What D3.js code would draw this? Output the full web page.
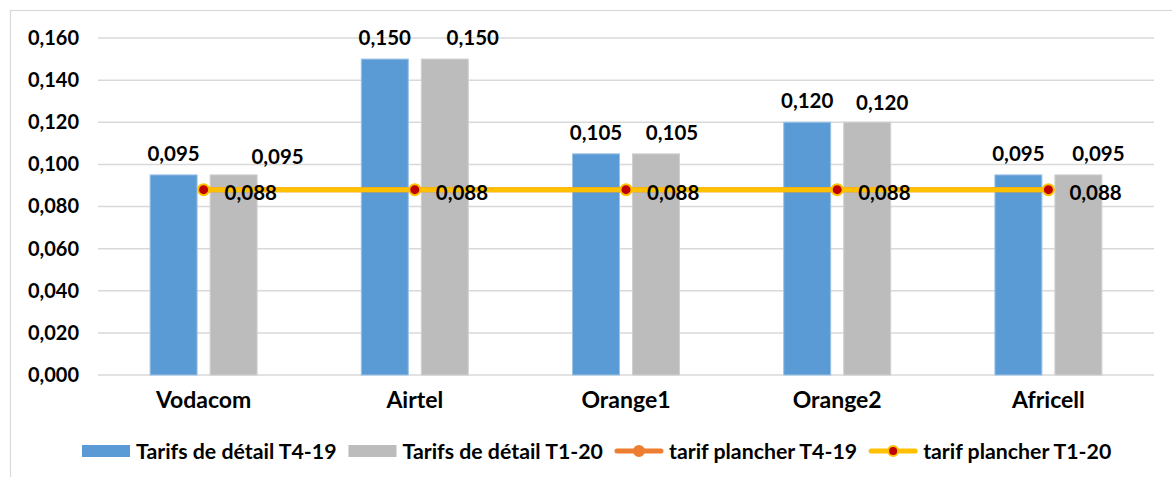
<!DOCTYPE html>
<html>
<head>
<meta charset="utf-8">
<script src="https://cdn.jsdelivr.net/npm/d3@7"></script>
<style>
  html, body { margin: 0; padding: 0; background: #fff; }
  svg { display: block; }
  text { font-family: Lato, "DejaVu Sans", sans-serif; font-weight: 700; fill: #000; }
</style>
</head>
<body>
<svg id="chart" width="1172" height="477"></svg>
<script>
// ---- data ----
const categories = ["Vodacom", "Airtel", "Orange1", "Orange2", "Africell"];
const detailT4_19 = [0.095, 0.150, 0.105, 0.120, 0.095];
const detailT1_20 = [0.095, 0.150, 0.105, 0.120, 0.095];
const plancherT4_19 = [0.088, 0.088, 0.088, 0.088, 0.088];
const plancherT1_20 = [0.088, 0.088, 0.088, 0.088, 0.088];
const yTicks = [0, 0.02, 0.04, 0.06, 0.08, 0.10, 0.12, 0.14, 0.16];
const seriesNames = ["Tarifs de détail T4-19", "Tarifs de détail T1-20", "tarif plancher T4-19", "tarif plancher T1-20"];

// label nudges (layout only, px)
const grayLabelDx = [44, 28, 16, 15, 20];
const grayLabelDy = [3, 0, 0, 2, 0];

const colors = { blue: "#5B9BD5", gray: "#BCBCBC", orange: "#ED7D31", yellow: "#FFC000", red: "#C00000", grid: "#D9D9D9" };

const svg = d3.select("#chart");
const fmt = v => d3.format(".3f")(v).replace(".", ",");

// chart border
svg.append("rect").attr("x", 10.5).attr("y", 10.5).attr("width", 1200).attr("height", 500)
  .attr("fill", "none").attr("stroke", "#D9D9D9").attr("stroke-width", 1.2);

const plot = { left: 98, right: 1154, top: 38, bottom: 375 };
const x = d3.scaleBand().domain(categories).range([plot.left, plot.right]).padding(0);
const xs = d3.scaleBand().domain(["a", "b"]).range([-53.5, 53.5]).paddingInner(0.2167).paddingOuter(0);
const y = d3.scaleLinear().domain([0, 0.16]).range([plot.bottom, plot.top]);
const cx = c => x(c) + x.bandwidth() / 2;

// gridlines
svg.append("g").selectAll("line").data(yTicks).join("line")
  .attr("x1", plot.left).attr("x2", plot.right)
  .attr("y1", d => y(d)).attr("y2", d => y(d))
  .attr("stroke", colors.grid).attr("stroke-width", 1.5);

// y axis labels
const yAxis = d3.axisLeft(y).tickValues(yTicks).tickFormat(fmt).tickSize(0).tickPadding(0);
const yg = svg.append("g").attr("transform", "translate(79,0)").call(yAxis);
yg.select(".domain").remove();
yg.selectAll("text").attr("font-size", 20).attr("font-family", "Lato, sans-serif").attr("font-weight", 700).attr("fill", "#000");

// x axis labels
const xAxis = d3.axisBottom(x).tickSize(0).tickPadding(0);
const xg = svg.append("g").attr("transform", `translate(0,${plot.bottom + 17})`).call(xAxis);
xg.select(".domain").remove();
xg.selectAll("text").attr("font-size", 23).attr("font-family", "Lato, sans-serif").attr("font-weight", 700).attr("fill", "#000");

// bars
const barSeries = [
  { key: "a", vals: detailT4_19, color: colors.blue, stroke: "#9DC3E6" },
  { key: "b", vals: detailT1_20, color: colors.gray, stroke: "#D0D0D0" }
];
barSeries.forEach(s => {
  svg.append("g").selectAll("rect").data(categories).join("rect")
    .attr("x", c => cx(c) + xs(s.key))
    .attr("width", xs.bandwidth())
    .attr("y", (c, i) => y(s.vals[i]))
    .attr("height", (c, i) => y(0) - y(s.vals[i]))
    .attr("fill", s.color).attr("stroke", s.stroke).attr("stroke-width", 1);
});

// bar labels
svg.append("g").selectAll("text").data(categories).join("text")
  .attr("x", c => cx(c) + xs("a") + xs.bandwidth() / 2)
  .attr("y", (c, i) => y(detailT4_19[i]) - 22)
  .attr("text-anchor", "middle").attr("dominant-baseline", "central")
  .attr("font-size", 20.5)
  .text((c, i) => fmt(detailT4_19[i]));
svg.append("g").selectAll("text").data(categories).join("text")
  .attr("x", (c, i) => cx(c) + xs("b") + xs.bandwidth() / 2 + grayLabelDx[i])
  .attr("y", (c, i) => y(detailT1_20[i]) - 22 + grayLabelDy[i])
  .attr("text-anchor", "middle").attr("dominant-baseline", "central")
  .attr("font-size", 20.5)
  .text((c, i) => fmt(detailT1_20[i]));

// lines
const line = vals => d3.line().x(c => cx(c)).y((c, i) => y(vals[i]))(categories);
svg.append("path").attr("d", line(plancherT4_19)).attr("fill", "none")
  .attr("stroke", colors.orange).attr("stroke-width", 5).attr("stroke-linecap", "round");
svg.append("g").selectAll("circle").data(categories).join("circle")
  .attr("cx", c => cx(c)).attr("cy", (c, i) => y(plancherT4_19[i])).attr("r", 5.5)
  .attr("fill", colors.orange);
svg.append("path").attr("d", line(plancherT1_20)).attr("fill", "none")
  .attr("stroke", colors.yellow).attr("stroke-width", 5).attr("stroke-linecap", "butt");
svg.append("g").selectAll("circle").data(categories).join("circle")
  .attr("cx", c => cx(c)).attr("cy", (c, i) => y(plancherT1_20[i])).attr("r", 5.5)
  .attr("fill", colors.red).attr("stroke", colors.yellow).attr("stroke-width", 2);

// line labels
svg.append("g").selectAll("text").data(categories).join("text")
  .attr("x", c => cx(c) + 21)
  .attr("y", (c, i) => y(plancherT1_20[i]) + 2)
  .attr("text-anchor", "start").attr("dominant-baseline", "central")
  .attr("font-size", 20.5)
  .text((c, i) => fmt(plancherT1_20[i]));

// legend
const legendY = 451;
const lg = svg.append("g").attr("transform", "translate(82,0)");
const items = [
  { name: seriesNames[0], type: "bar", color: colors.blue },
  { name: seriesNames[1], type: "bar", color: colors.gray },
  { name: seriesNames[2], type: "line", color: colors.orange, marker: colors.orange },
  { name: seriesNames[3], type: "line", color: colors.yellow, marker: colors.red }
];
let cursor = 0;
items.forEach((it, i) => {
  const g = lg.append("g").attr("transform", `translate(${cursor},0)`);
  if (it.type === "bar") {
    g.append("rect").attr("x", 0).attr("y", legendY - 6).attr("width", 48).attr("height", 12).attr("fill", it.color);
  } else {
    g.append("line").attr("x1", 2).attr("x2", 46).attr("y1", legendY).attr("y2", legendY)
      .attr("stroke", it.color).attr("stroke-width", 5).attr("stroke-linecap", "round");
    g.append("circle").attr("cx", 24).attr("cy", legendY).attr("r", 5)
      .attr("fill", it.marker).attr("stroke", it.color).attr("stroke-width", 2);
  }
  const t = g.append("text").attr("x", 54).attr("y", legendY).attr("dominant-baseline", "central")
    .attr("font-size", 21.3).text(it.name);
  const w = t.node().getComputedTextLength();
  cursor += 54 + w + 12;
});
</script>
</body>
</html>
